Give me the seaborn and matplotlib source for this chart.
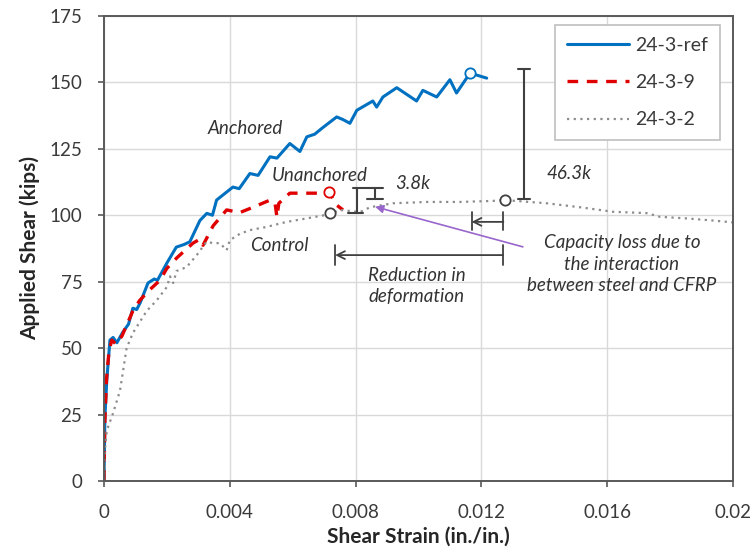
import matplotlib
matplotlib.use('Agg')
import matplotlib.pyplot as plt
import numpy as np
import pandas as pd
import seaborn as sns

# 24-3-ref (anchored)
ref_strain = [0, 0.00003, 0.00009, 0.00019, 0.00029, 0.00041, 0.0006, 0.00078, 0.00092, 0.00104, 0.00115,
              0.0014, 0.0016, 0.0017, 0.002, 0.0023, 0.00255, 0.00273, 0.00305, 0.00327, 0.00345, 0.00358,
              0.0041, 0.0043, 0.00464, 0.0049, 0.00528, 0.0055, 0.00591, 0.00623, 0.00645, 0.0067, 0.00696,
              0.0074, 0.0076, 0.00782, 0.00804, 0.00855, 0.00867, 0.00887, 0.00931, 0.00994, 0.01014,
              0.01058, 0.011, 0.01121, 0.01164, 0.01217]
ref_shear = [0, 24, 38, 53, 54, 52, 56, 59, 65, 64.5, 67,
             74.5, 76, 75.5, 82, 88, 89, 90, 98, 100.7, 100, 105.7,
             110.6, 110, 115.7, 115, 122, 121.5, 127, 124, 129.5, 130.5, 133,
             137, 136, 134.6, 139.5, 143, 140.7, 144.5, 148, 143, 147,
             144.5, 151, 146, 153.5, 151.6]

# 24-3-9 (unanchored)
un_strain = [0, 0.00003, 0.00008, 0.00016, 0.00025, 0.00038, 0.00057, 0.00092, 0.00114, 0.00146, 0.00178,
             0.002, 0.00232, 0.00283, 0.00305, 0.00315, 0.00347, 0.0039, 0.00432, 0.00474, 0.00528,
             0.00544, 0.0055, 0.00556, 0.00591, 0.00645, 0.00696, 0.00716, 0.0074, 0.0076]
un_shear = [0, 23, 38, 49, 53, 51.5, 54.5, 64, 68, 72, 75.5,
            80, 84, 89.5, 91, 88.7, 96, 102, 101, 103, 105.7,
            104.5, 99.3, 104.5, 108.3, 108.3, 108.3, 108.7, 103.8, 102]

# 24-3-2 (control)
ctrl_strain = [0, 0.00003, 0.00009, 0.00029, 0.00051, 0.00072, 0.00092, 0.00136, 0.00168, 0.002, 0.0021,
               0.0022, 0.00231, 0.00263, 0.00295, 0.00326, 0.00347, 0.00369, 0.0039, 0.004, 0.00432,
               0.00464, 0.00517, 0.00581, 0.00644, 0.00719, 0.0075, 0.00814, 0.00846, 0.00919, 0.01026,
               0.01132, 0.01237, 0.01275, 0.01408, 0.01514, 0.01619, 0.01726, 0.01768, 0.01853, 0.01937, 0.02]
ctrl_shear = [0, 11.6, 19, 25.5, 34, 50, 55.7, 64, 68, 73, 77,
              74.5, 79, 80.5, 85, 90, 89.5, 89.5, 86.8, 90.6, 93,
              94.4, 95.6, 97.5, 98.8, 100.4, 102, 101.2, 103, 104.5, 105,
              105, 105.4, 105.7, 104.5, 103, 101.3, 100.8, 99.4, 98.8, 98, 97.3]

# peak markers
peak_strain = [0.01164, 0.00716, 0.00719, 0.01275]
peak_shear = [153.5, 108.7, 100.8, 105.7]
peak_color = ['#0070C0', '#E00000', '#404040', '#404040']

sns.set_theme(style='whitegrid')
plt.rcParams['font.family'] = ['Lato', 'DejaVu Sans']

fig = plt.figure(figsize=(7.55, 5.56), dpi=100)
ax = fig.add_axes([0.1377, 0.135, 0.8331, 0.8363])

sns.lineplot(x=ref_strain, y=ref_shear, sort=False, estimator=None, ax=ax,
             color='#0070C0', linewidth=2.2, label='24-3-ref')
sns.lineplot(x=un_strain, y=un_shear, sort=False, estimator=None, ax=ax,
             color='#E00000', linewidth=2.4, linestyle=(0, (3.2, 2.6)), label='24-3-9')
sns.lineplot(x=ctrl_strain, y=ctrl_shear, sort=False, estimator=None, ax=ax,
             color='#8c8c8c', linewidth=1.6, linestyle=(0, (1, 2)), label='24-3-2')

for xs, ys, c in zip(peak_strain, peak_shear, peak_color):
    ax.scatter([xs], [ys], s=55, facecolor='white', edgecolor=c, linewidth=1.3, zorder=5)

ax.set_xlim(0, 0.02)
ax.set_ylim(0, 175)
ax.set_xticks([0, 0.004, 0.008, 0.012, 0.016, 0.02])
ax.set_xticklabels(['0', '0.004', '0.008', '0.012', '0.016', '0.02'])
ax.set_yticks(np.arange(0, 176, 25))
ax.grid(True, color='#d9d9d9', linewidth=1)
for s in ax.spines.values():
    s.set_color('#595959')
    s.set_linewidth(1.4)
ax.tick_params(axis='both', which='both', direction='out', length=4.5, width=1.2, color='#595959',
               labelsize=13.5, labelcolor='#3a3a3a', left=True, bottom=True)
ax.tick_params(axis='y', pad=11)
ax.tick_params(axis='x', pad=12)
ax.set_xlabel('Shear Strain (in./in.)', fontsize=15, fontweight='bold', color='#262626', labelpad=4)
ax.set_ylabel('Applied Shear (kips)', fontsize=15, fontweight='bold', color='#262626', labelpad=7)

tc = '#333333'
kw = dict(fontsize=13.5, style='italic', color=tc)
ax.text(0.00328, 132.7, 'Anchored', ha='left', va='center', **kw)
ax.text(0.00534, 115, 'Unanchored', ha='left', va='center', **kw)
ax.text(0.00464, 88.7, 'Control', ha='left', va='center', **kw)
ax.text(0.00925, 112, '3.8k', ha='left', va='center', **kw)
ax.text(0.01408, 115.8, '46.3k', ha='left', va='center', **kw)
ax.text(0.00994, 73.5, 'Reduction in\ndeformation', ha='center', va='center', linespacing=1.3, **kw)
ax.text(0.01647, 81.6, 'Capacity loss due to\nthe interaction\nbetween steel and CFRP',
        ha='center', va='center', linespacing=1.3, **kw)

lc = '#404040'
# 46.3k bar
ax.plot([0.01336, 0.01336], [106, 155], color=lc, lw=1.5)
ax.plot([0.01318, 0.01354], [155, 155], color=lc, lw=1.5)
ax.plot([0.01318, 0.01354], [106, 106], color=lc, lw=1.5)
# 3.8k bars
ax.plot([0.00792, 0.00887], [110.2, 110.2], color=lc, lw=1.5)
ax.plot([0.00803, 0.00803], [110.2, 100.8], color=lc, lw=1.5)
ax.plot([0.00776, 0.00824], [100.8, 100.8], color=lc, lw=1.5)
ax.plot([0.00862, 0.00862], [110.2, 106], color=lc, lw=1.5)
ax.plot([0.00836, 0.00887], [106, 106], color=lc, lw=1.5)
# capacity loss arrow
ax.plot([0.01169, 0.01169], [94.4, 101.3], color=lc, lw=1.3)
ax.plot([0.0127, 0.0127], [94.4, 101.3], color=lc, lw=1.3)
ax.annotate('', xy=(0.01169, 97.5), xytext=(0.0127, 97.5),
            arrowprops=dict(arrowstyle='->', color=lc, lw=1.3, mutation_scale=14, shrinkA=0, shrinkB=0))
# reduction in deformation arrow
ax.plot([0.00735, 0.00735], [81.2, 88.7], color=lc, lw=1.3)
ax.plot([0.01269, 0.01269], [81.2, 88.7], color=lc, lw=1.3)
ax.annotate('', xy=(0.00735, 85), xytext=(0.01269, 85),
            arrowprops=dict(arrowstyle='->', color=lc, lw=1.3, mutation_scale=14, shrinkA=0, shrinkB=0))
# purple pointer
ax.annotate('', xy=(0.00862, 103.2), xytext=(0.01332, 88.1),
            arrowprops=dict(arrowstyle='-|>', color='#9966CC', lw=1.2, mutation_scale=12,
                            shrinkA=0, shrinkB=0))

leg = ax.legend(loc='upper right', bbox_to_anchor=(0.979, 0.9806), borderaxespad=0, fontsize=14,
                frameon=True, fancybox=False, edgecolor='#bfbfbf', framealpha=1,
                labelspacing=1.05, handlelength=3.2, handletextpad=0.3, borderpad=0.6)
leg.get_frame().set_linewidth(1.2)
for t in leg.get_texts():
    t.set_color('#3a3a3a')

fig.savefig('out.png', dpi=100)
